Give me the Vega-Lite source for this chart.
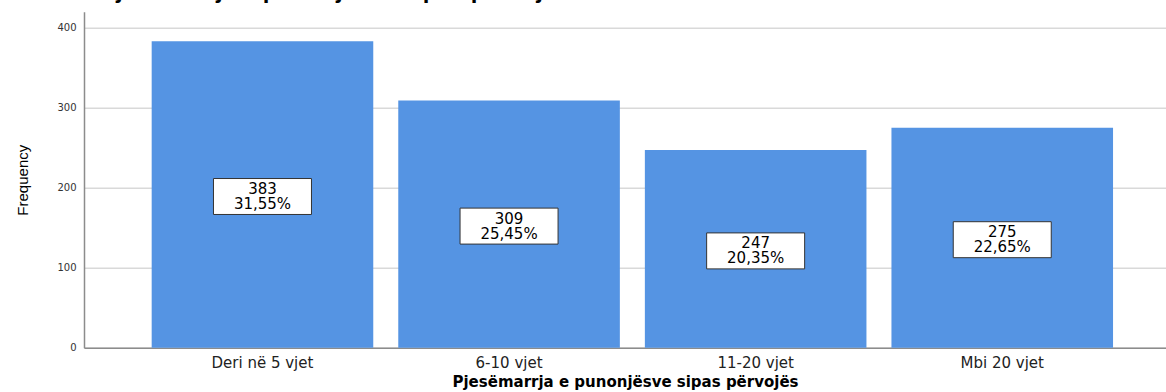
{
  "$schema": "https://vega.github.io/schema/vega-lite/v6.json",
  "autosize": "none",
  "width": 1082,
  "height": 336,
  "padding": {"left": 84, "top": 11.7, "right": 0, "bottom": 44.3},
  "background": "white",
  "title": {
    "text": "Pjesëmarrja e punonjësve sipas përvojës",
    "anchor": "start",
    "frame": "group",
    "font": "Liberation Sans",
    "fontSize": 24,
    "fontWeight": "bold",
    "color": "#000000",
    "baseline": "bottom",
    "offset": 0,
    "dx": 16,
    "dy": 15
  },
  "data": {
    "values": [
      {"category": "Deri në 5 vjet", "count": 383, "pct": "31,55%"},
      {"category": "6-10 vjet", "count": 309, "pct": "25,45%"},
      {"category": "11-20 vjet", "count": 247, "pct": "20,35%"},
      {"category": "Mbi 20 vjet", "count": 275, "pct": "22,65%"}
    ]
  },
  "transform": [
    {"calculate": "datum.count / 2", "as": "mid"}
  ],
  "encoding": {
    "x": {
      "field": "category",
      "type": "nominal",
      "sort": null,
      "scale": {"paddingInner": 0.1014, "paddingOuter": 0.2446, "align": 0.561},
      "axis": {
        "title": "Pjesëmarrja e punonjësve sipas përvojës",
        "titleFont": "DejaVu Sans",
        "titleFontSize": 15,
        "titleFontWeight": "bold",
        "titleColor": "#000000",
        "titleY": 39,
        "titleBaseline": "alphabetic",
        "labelAngle": 0,
        "labelFont": "DejaVu Sans",
        "labelFontSize": 15,
        "labelColor": "#222222",
        "labelPadding": 8,
        "ticks": false,
        "domainColor": "#8c8c8c",
        "domainWidth": 1.5,
        "grid": false
      }
    }
  },
  "layer": [
    {
      "mark": {"type": "bar", "color": "#5594E3"},
      "encoding": {
        "y": {
          "field": "count",
          "type": "quantitative",
          "scale": {"domain": [0, 420], "nice": false},
          "axis": {
            "title": "Frequency",
            "titleFont": "Liberation Sans",
            "titleFontSize": 15,
            "titleFontWeight": "normal",
            "titleColor": "#000000",
            "titleAngle": 270,
            "titleX": -62,
            "titleY": 168,
            "titleBaseline": "middle",
            "titleAlign": "center",
            "values": [0, 100, 200, 300, 400],
            "labelFont": "DejaVu Sans",
            "labelFontSize": 10,
            "labelColor": "#333333",
            "labelPadding": 8,
            "ticks": false,
            "domainColor": "#8c8c8c",
            "domainWidth": 1.5,
            "grid": true,
            "gridColor": "#d9d9d9",
            "gridWidth": 1.5
          }
        }
      }
    },
    {
      "mark": {
        "type": "point",
        "shape": "M-1,-0.367L1,-0.367L1,0.367L-1,0.367Z",
        "size": 9604,
        "filled": true,
        "fill": "#ffffff",
        "fillOpacity": 1,
        "stroke": "#333333",
        "strokeWidth": 1,
        "opacity": 1,
        "yOffset": 2
      },
      "encoding": {
        "y": {"field": "mid", "type": "quantitative"}
      }
    },
    {
      "mark": {
        "type": "text",
        "font": "DejaVu Sans",
        "fontSize": 15,
        "align": "center",
        "baseline": "middle",
        "color": "#000000",
        "yOffset": 2,
        "dy": -7.5
      },
      "encoding": {
        "y": {"field": "mid", "type": "quantitative"},
        "text": {"field": "count", "type": "quantitative", "format": "d"}
      }
    },
    {
      "mark": {
        "type": "text",
        "font": "DejaVu Sans",
        "fontSize": 15,
        "align": "center",
        "baseline": "middle",
        "color": "#000000",
        "yOffset": 2,
        "dy": 7.5
      },
      "encoding": {
        "y": {"field": "mid", "type": "quantitative"},
        "text": {"field": "pct", "type": "nominal"}
      }
    }
  ],
  "config": {
    "view": {"stroke": null}
  }
}
